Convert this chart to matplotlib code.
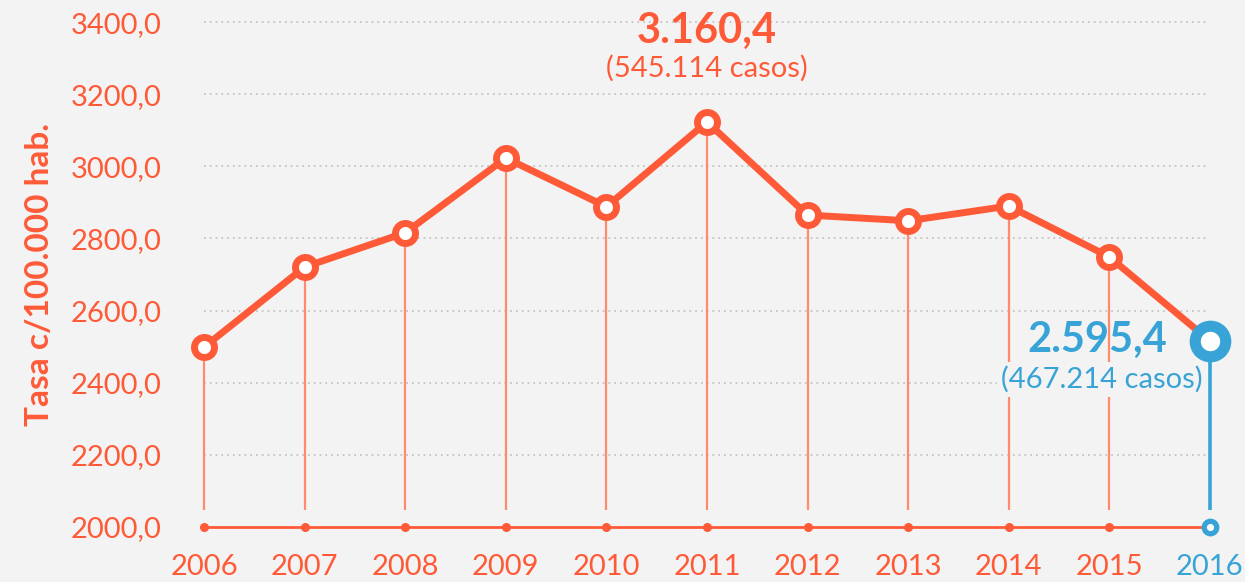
import numpy as np
import matplotlib.pyplot as plt

# data
years = [2006, 2007, 2008, 2009, 2010, 2011, 2012, 2013, 2014, 2015, 2016]
tasa = [2499, 2721, 2816, 3023, 2888, 3123, 2865, 2849, 2890, 2749, 2516]
yticks = [2000, 2200, 2400, 2600, 2800, 3000, 3200, 3400]
ytick_labels = ["2000,0", "2200,0", "2400,0", "2600,0", "2800,0", "3000,0", "3200,0", "3400,0"]
max_label = ["3.160,4", "(545.114 casos)"]
last_label = ["2.595,4", "(467.214 casos)"]

orange = "#ff5a38"
orange_lt = "#ff8a6e"
blue = "#38a3d6"
bg = "#f3f3f3"

plt.rcParams['font.family'] = ['Lato', 'DejaVu Sans']

fig = plt.figure(figsize=(12.45, 5.82), dpi=100, facecolor=bg)
ax = fig.add_axes([180/1245, 42/582, 1055/1245, 532/582], facecolor=bg)
ax.set_xlim(2005.76, 2016.25)
ax.set_ylim(1964, 3439)

# dotted grid
ax.hlines(yticks[1:], years[0], 2015.97, colors="#c4c4c4", lw=1.3,
          linestyles=(0, (1, 2.2)), zorder=1)

# drop lines
ax.vlines(years[:-1], 2047, tasa[:-1], colors=orange_lt, lw=1.6, zorder=2)
ax.vlines(years[-1], 2047, tasa[-1], colors=blue, lw=2.6, zorder=2)

# baseline
ax.plot(years[:-1], [2000]*10, color=orange, lw=2, marker='o', ms=5.5, zorder=3)
ax.plot([years[-2], years[-1] - 0.1], [2000, 2000], color=orange, lw=2, zorder=3)
ax.plot(years[-1], 2000, marker='o', ms=9, mfc='white', mec=blue, mew=3.8, zorder=4)

# main line
ax.plot(years, tasa, color=orange, lw=5, zorder=5)
ax.plot(years[:-1], tasa[:-1], ls='none', marker='o', ms=14.4, mfc='white',
        mec=orange, mew=5, zorder=6)
ax.plot(years[-1], tasa[-1], marker='o', ms=22, mfc='white', mec=blue, mew=8, zorder=7)

# annotations
ax.text(2011, 3375, max_label[0], color=orange, fontsize=30, fontweight='bold',
        ha='center', va='center', zorder=8)
ax.text(2011, 3272, max_label[1], color=orange, fontsize=21,
        ha='center', va='center', zorder=8)
ax.text(2015.58, 2520, last_label[0], color=blue, fontsize=30, fontweight='bold',
        ha='right', va='center', zorder=8)
ax.text(2015.93, 2410, last_label[1], color=blue, fontsize=21,
        ha='right', va='center', zorder=8,
        bbox=dict(facecolor=bg, edgecolor='none', pad=3))

ax.set_yticks(yticks)
ax.set_yticklabels(ytick_labels)
ax.set_xticks(years)
ax.set_xticklabels([str(y) for y in years])
ax.tick_params(axis='y', length=0, pad=13, labelsize=21, labelcolor=orange)
ax.tick_params(axis='x', length=0, pad=10, labelsize=21, labelcolor=orange)
ax.get_xticklabels()[-1].set_color(blue)
ax.set_ylabel("Tasa c/100.000 hab.", color=orange, fontsize=24, fontweight='bold',
              labelpad=12)
for s in ax.spines.values():
    s.set_visible(False)

fig.savefig("out.png", dpi=100, facecolor=bg)
